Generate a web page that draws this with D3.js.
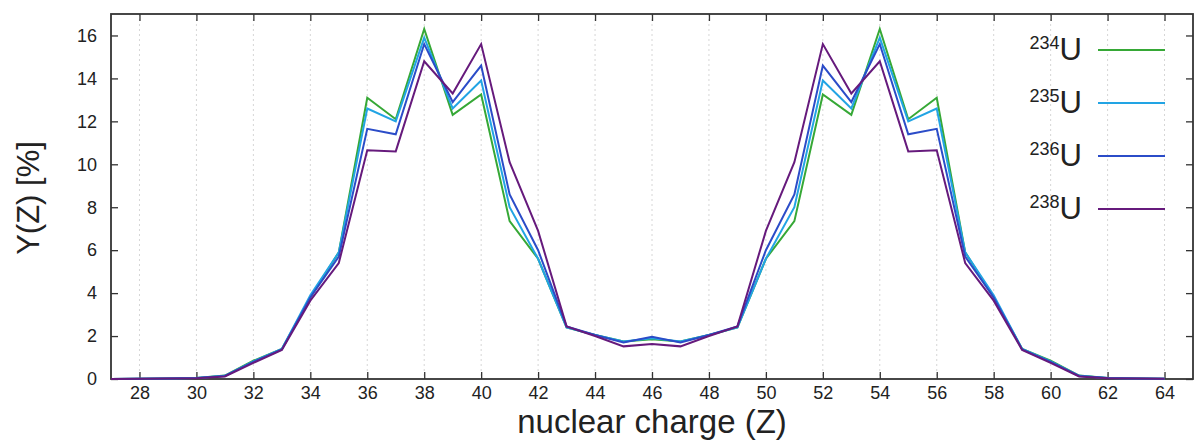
<!DOCTYPE html>
<html>
<head>
<meta charset="utf-8">
<script src="https://cdn.jsdelivr.net/npm/d3@7"></script>
<style>
  html, body { margin: 0; padding: 0; background: #fff; }
  svg { display: block; }
  text { font-family: "Liberation Sans", Arial, sans-serif; fill: #222; }
</style>
</head>
<body>
<svg id="chart" width="1196" height="441"></svg>
<script>
// ---- data ----
const Z = [27,28,29,30,31,32,33,34,35,36,37,38,39,40,41,42,43,44,45,46,47,48,49,50,51,52,53,54,55,56,57,58,59,60,61,62,63,64];
const U234 = [0,0.01,0.02,0.05,0.16,0.85,1.4,3.8,5.9,13.1,12.1,16.3,12.3,13.25,7.35,5.6,2.4,2.05,1.75,1.85,1.75,2.05,2.4,5.6,7.35,13.25,12.3,16.3,12.1,13.1,5.9,3.8,1.4,0.85,0.16,0.05,0.02,0.01];
const U235 = [0,0.01,0.02,0.05,0.15,0.82,1.4,3.9,5.9,12.6,12.0,15.9,12.6,13.9,8.0,5.6,2.4,2.05,1.75,1.9,1.75,2.05,2.4,5.6,8.0,13.9,12.6,15.9,12.0,12.6,5.9,3.9,1.4,0.82,0.15,0.05,0.02,0.01];
const U236 = [0,0.01,0.02,0.05,0.14,0.8,1.38,3.8,5.7,11.65,11.4,15.6,12.9,14.6,8.6,6.0,2.45,2.05,1.7,1.97,1.7,2.05,2.45,6.0,8.6,14.6,12.9,15.6,11.4,11.65,5.7,3.8,1.38,0.8,0.14,0.05,0.02,0.01];
const U238 = [0,0.01,0.02,0.04,0.12,0.75,1.35,3.65,5.4,10.65,10.6,14.8,13.3,15.6,10.1,6.9,2.45,2.0,1.52,1.63,1.52,2.0,2.45,6.9,10.1,15.6,13.3,14.8,10.6,10.65,5.4,3.65,1.35,0.75,0.12,0.04,0.02,0.01];
const seriesNames = ["234", "235", "236", "238"];
const seriesColors = ["#36a836", "#22a4e4", "#2b4cc8", "#661a7c"];
const xTicks = [28,30,32,34,36,38,40,42,44,46,48,50,52,54,56,58,60,62,64];
const yTicks = [0,2,4,6,8,10,12,14,16];

const series = [U234, U235, U236, U238];

const svg = d3.select("#chart");
const L = 111, R = 1193, T = 14, B = 379;

const x = d3.scaleLinear().domain([27, 65]).range([L, R]);
const y = d3.scaleLinear().domain([0, 17]).range([B, T]);

// grid (vertical, dotted)
svg.append("g").selectAll("line").data(xTicks).join("line")
  .attr("x1", d => x(d)).attr("x2", d => x(d))
  .attr("y1", T).attr("y2", B)
  .attr("stroke", "#d6d6d6").attr("stroke-width", 1)
  .attr("stroke-dasharray", "2,3");

// axes with inward ticks
const tickLen = 7;
const axB = svg.append("g").attr("transform", `translate(0,${B})`)
  .call(d3.axisBottom(x).tickValues(xTicks).tickSize(-tickLen).tickPadding(7));
const axT = svg.append("g").attr("transform", `translate(0,${T})`)
  .call(d3.axisTop(x).tickValues(xTicks).tickSize(-tickLen).tickFormat(""));
const axL = svg.append("g").attr("transform", `translate(${L},0)`)
  .call(d3.axisLeft(y).tickValues(yTicks).tickSize(-tickLen).tickPadding(14));
const axR = svg.append("g").attr("transform", `translate(${R},0)`)
  .call(d3.axisRight(y).tickValues(yTicks).tickSize(-tickLen).tickFormat(""));

[axB, axT, axL, axR].forEach(a => {
  a.select(".domain").remove();
  a.selectAll(".tick line").attr("stroke", "#333").attr("stroke-width", 1.3);
  a.selectAll("text").style("font-size", "18px").attr("fill", "#2a2a2a")
    .style("font-family", '"Liberation Sans", Arial, sans-serif');
});

// frame
svg.append("rect").attr("x", L).attr("y", T).attr("width", R - L).attr("height", B - T)
  .attr("fill", "none").attr("stroke", "#333").attr("stroke-width", 1.8);

// lines
const line = d3.line().x((d, i) => x(Z[i])).y(d => y(d));
svg.append("g").selectAll("path").data(series).join("path")
  .attr("d", d => line(d))
  .attr("fill", "none")
  .attr("stroke", (d, i) => seriesColors[i])
  .attr("stroke-width", 2)
  .attr("stroke-linejoin", "miter");

// axis labels
svg.append("text").attr("x", 652).attr("y", 433).attr("text-anchor", "middle")
  .style("font-size", "33px").text("nuclear charge (Z)");
svg.append("text").attr("transform", "translate(39,198) rotate(-90)").attr("text-anchor", "middle")
  .style("font-size", "31px").text("Y(Z) [%]");

// legend
const lg = svg.append("g");
seriesNames.forEach((name, i) => {
  const ly = 50 + i * 53;
  const t = lg.append("text").attr("x", 1082).attr("y", ly + 10).attr("text-anchor", "end");
  t.append("tspan").attr("dy", -11).style("font-size", "18px").text(name);
  t.append("tspan").attr("dy", 11).style("font-size", "31px").text("U");
  lg.append("line").attr("x1", 1098).attr("x2", 1165).attr("y1", ly).attr("y2", ly)
    .attr("stroke", seriesColors[i]).attr("stroke-width", 2);
});
</script>
</body>
</html>
